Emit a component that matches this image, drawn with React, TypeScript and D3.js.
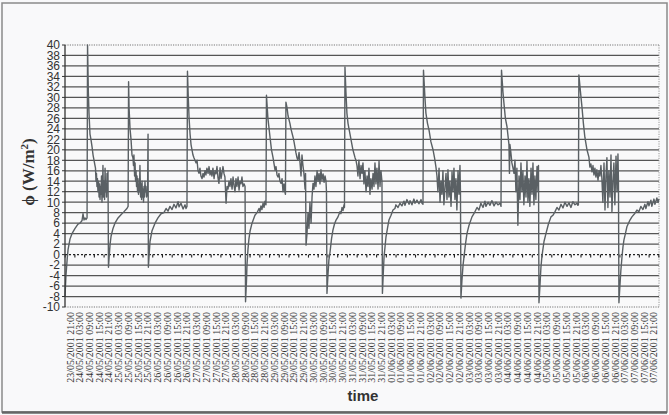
import React from 'react';
import * as d3 from 'd3';

const W = 669;
const H = 415;

// y axis values (W/m²)
const yTicks: number[] = d3.range(-10, 41, 2);

// category labels every 6 hours, hours counted from 23/05/2001 21:00
const startDate = new Date(2001, 4, 23, 21, 0);
const tickHours: number[] = d3.range(0, 361, 6);
const fmt = d3.timeFormat('%d/%m/%Y %H:%M');
const tickLabels: string[] = tickHours.map((h) => fmt(new Date(startDate.getTime() + h * 3600000)));
const categoryEdges: number[] = d3.range(-3, 364, 6);

// [hours since 23/05/2001 21:00, heat flux W/m²]
const flux2324: [number, number][] = [
  [-3.1, -8], [-2.5, -4], [-1.8, -1], [-1.2, 1], [0, 3], [1.2, 4], [3.1, 5], [4.9, 5.8], [6.2, 6], [7.4, 6.5],
  [8.0, 7.8], [8.6, 6.6], [9.2, 7], [9.9, 6.7], [10.5, 7], [10.8, 40], [11.3, 31], [11.7, 27], [12.3, 23], [12.9, 22],
  [13.6, 20.5], [14.2, 19], [14.8, 18], [15.4, 17],
  [15.7, 16.5], [16.0, 14], [16.3, 15.5], [16.6, 13], [16.9, 14.5], [17.2, 12], [17.6, 14], [17.9, 11], [18.2, 13.5],
  [18.5, 10.5], [18.8, 13], [19.1, 11.5], [19.4, 15], [19.7, 10], [20.0, 12.5], [20.3, 17], [20.6, 11], [20.9, 14],
  [21.3, 10.5], [21.6, 16.5], [21.9, 12], [22.2, 13.5], [22.5, 11], [22.8, 15.5], [23.1, 12],
  [23.4, 16], [23.7, -2.4],
];
const flux2425: [number, number][] = [
  [24.0, -1], [24.7, 2], [25.3, 3.5], [26.5, 5], [27.7, 6], [29.6, 7], [31.4, 7.6], [33.3, 8.2], [34.5, 8.6], [35.1, 8.8],
  [35.8, 9.2], [36.1, 33], [36.4, 28], [37.0, 24], [37.6, 22], [38.2, 19], [38.8, 18.5],
  [39.1, 17], [39.4, 19], [39.8, 15], [40.1, 17.5], [40.4, 14], [40.7, 16], [41.0, 13], [41.3, 15], [41.6, 12],
  [41.9, 14.5], [42.2, 11.5], [42.5, 13], [42.8, 12], [43.1, 17], [43.5, 11], [43.8, 13.5], [44.1, 10.5], [44.4, 14],
  [44.7, 11], [45.0, 12.5], [45.3, 10], [45.6, 13], [45.9, 11], [46.2, 14], [46.5, 12], [46.8, 13],
  [47.2, 11], [47.8, 12], [48.1, 23], [48.3, -2.4],
];
const flux2527: [number, number][] = [
  [48.7, -0.5], [49.3, 2.5], [50.5, 4.5], [52.4, 6], [54.2, 7], [56.1, 7.8], [57.9, 8], [59.2, 8.8], [60.4, 8.3],
  [61.6, 9.2], [62.9, 8.6], [64.1, 9.6], [65.3, 8.9], [66.6, 10.1], [67.2, 9.1], [68.4, 9.8], [69.7, 8.7], [70.9, 9.5],
  [71.5, 8.8], [72.1, 9.2], [72.4, 35], [72.9, 30], [73.4, 26], [74.0, 23], [74.6, 21], [75.2, 20], [75.8, 19],
  [76.4, 18.5], [77.7, 17.5], [78.3, 18], [78.9, 16],
  [79.5, 15.5], [80.1, 16.5], [80.7, 15], [81.4, 14.5], [82.0, 15.5], [82.6, 14.8], [83.2, 16], [83.8, 15.2],
  [84.4, 16.5], [85.1, 15.5], [85.7, 16.8], [86.3, 15.2], [86.9, 16], [87.5, 15], [88.1, 16.5], [88.8, 14.5],
  [89.4, 16], [90.0, 15.4], [90.6, 16.8], [91.2, 14.7], [91.8, 13.6], [92.5, 16.6], [93.1, 14.5], [93.7, 15.6],
  [94.3, 16.8], [94.9, 15.5], [95.5, 14.8], [96.2, 9.8], [96.8, 13], [97.4, 12.5], [98.0, 14], [98.6, 13],
  [99.2, 14.5], [99.9, 12.5], [100.5, 14.8], [101.1, 13.2], [101.7, 12], [102.3, 14.5], [102.9, 13], [103.6, 14.8],
  [104.2, 12.3], [104.8, 14], [105.4, 13.5], [106.0, 14.8], [106.6, 13], [107.3, 13.5], [107.9, 13], [108.2, -9],
];
const flux2729: [number, number][] = [
  [108.8, -5], [109.1, -2], [109.7, 1], [110.3, 3], [111.0, 4.5], [112.2, 6], [114.0, 7.5], [115.3, 8], [116.5, 8.8],
  [117.1, 8.2], [117.7, 9.3], [118.3, 8.6], [119.0, 9.8], [119.6, 9], [120.2, 10.2], [120.8, 9.5], [121.1, 30.4],
  [122.0, 26], [123.3, 22.4], [124.2, 20], [125.1, 18.6], [126.4, 16.1], [127.0, 16.8], [127.6, 15.2], [128.2, 14.8],
  [128.8, 15.5], [129.4, 14], [130.1, 13.6], [130.7, 14.5], [131.3, 12], [131.9, 13.5], [132.5, 11.9], [132.8, 11.5],
  [133.1, 29.1], [133.8, 28], [134.4, 26.5], [135.6, 25], [136.2, 24], [137.5, 22.4], [138.1, 21.5], [139.3, 19.4],
  [139.9, 18.5], [140.5, 18], [141.2, 19.5], [141.8, 17.5], [142.4, 15], [143.0, 19], [143.6, 17], [144.2, 15.5],
  [144.9, 12.5], [145.2, 15.5], [145.5, 1.8], [146.1, 4], [146.7, 8], [147.3, 5], [147.9, 10], [148.6, 6], [149.2, 11],
  [149.8, 13.6], [150.4, 12.5], [151.0, 15], [151.6, 13], [152.3, 16], [152.9, 14], [153.5, 15.5], [154.1, 13.5],
  [154.7, 16.2], [155.3, 14.2], [156.0, 15.4], [156.6, 13.8], [157.2, 15], [157.8, 14], [158.1, 12], [158.4, -7.4],
];
const flux3031: [number, number][] = [
  [159.0, -4], [159.6, -1], [160.3, 0.5], [161.2, 3], [162.1, 4.7], [163.0, 5.8], [164.0, 6.6], [165.2, 7.2],
  [166.4, 8.2], [167.0, 7.8], [167.7, 9], [168.3, 8.4], [168.9, 9.5], [169.2, 9], [169.5, 35.8], [170.1, 31],
  [170.7, 27], [171.4, 25], [172.6, 23], [173.8, 21], [174.4, 20], [175.7, 18.5], [176.3, 18], [176.9, 17],
  [177.5, 15], [178.1, 18], [178.8, 14.5], [179.4, 17], [180.0, 15.5], [180.6, 17.5], [181.2, 13.5], [181.8, 16],
  [182.5, 12], [183.1, 15], [183.7, 13], [184.3, 16.5], [184.9, 11.5], [185.5, 14.5], [186.2, 12.5], [186.8, 15.5],
  [187.4, 13], [188.0, 17.5], [188.6, 13.5], [189.2, 16.5], [189.9, 12.5], [190.5, 17.8], [191.1, 13], [191.7, 16],
  [192.3, 14], [192.6, -7.4],
];
const flux0102: [number, number][] = [
  [193.2, -3], [193.6, -0.4], [194.2, 1.5], [194.8, 3.4], [195.7, 5], [196.6, 6.6], [197.9, 7.5], [199.1, 8.5],
  [200.3, 8.8], [200.9, 9.5], [202.2, 9], [203.4, 9.8], [204.6, 9.3], [205.9, 10.2], [206.5, 9.4], [207.7, 10.5],
  [209.0, 9.6], [209.6, 10.3], [210.8, 9.5], [212.0, 10.6], [212.7, 9.8], [213.9, 10.4], [215.1, 9.7], [216.4, 10.5],
  [217.0, 9.8], [217.6, 9.6], [217.9, 35.2], [218.8, 30], [219.4, 27], [220.4, 25], [221.3, 23.8], [222.5, 21.5],
  [223.8, 20], [224.7, 18.5], [225.6, 16.7], [226.2, 15], [226.8, 12], [227.5, 16.5], [228.1, 10], [228.7, 14],
  [229.3, 11.5], [229.9, 16], [230.5, 9.5], [231.2, 13], [231.8, 15.5], [232.4, 10.5], [233.0, 16.2], [233.6, 11],
  [234.2, 14], [234.9, 9.2], [235.5, 15.8], [236.1, 12], [236.7, 16.5], [237.3, 10.5], [237.9, 14.5], [238.5, 8.5],
  [239.2, 16], [239.8, 11.5], [240.4, 17], [240.7, 12], [241.0, -8.3],
];
const flux0304: [number, number][] = [
  [241.6, -5], [242.3, -2], [242.9, -0.4], [243.8, 2], [244.7, 4], [245.9, 5.5], [247.8, 7.2], [249.0, 7.8],
  [250.9, 9], [252.1, 8.5], [253.3, 9.8], [254.6, 9], [255.8, 10.2], [256.4, 9.2], [257.7, 10], [258.9, 9.4],
  [260.1, 10.3], [261.4, 9.3], [262.6, 10], [263.8, 9.5], [265.1, 9.8], [265.7, 9.2], [266.0, 35.2], [266.9, 31],
  [267.5, 28.9], [268.4, 26], [269.4, 24.4], [270.6, 21], [270.9, 15.5], [271.2, 21], [271.8, 19.4], [272.4, 17.5],
  [273.1, 16.5], [273.7, 15.5], [274.3, 18], [274.9, 12], [275.5, 16.5], [276.1, 5.6], [276.8, 15], [277.4, 10.5],
  [278.0, 17.5], [278.6, 12], [279.2, 16], [279.8, 9.5], [280.5, 15], [281.1, 11], [281.7, 17.8], [282.3, 10],
  [282.9, 14.5], [283.5, 9.2], [284.2, 16.5], [284.8, 11.5], [285.4, 17.5], [286.0, 9.5], [286.6, 15], [287.2, 10.5],
  [287.9, 16.8], [288.5, 12], [288.8, 17], [289.1, -9.2],
];
const flux0506: [number, number][] = [
  [289.7, -6], [290.3, -2.5], [290.9, -0.4], [292.2, 2.5], [293.4, 4], [294.9, 5.8], [296.5, 7.2], [297.7, 7.5],
  [299.0, 8.2], [300.2, 9], [301.4, 8.5], [302.7, 9.6], [303.9, 8.9], [305.1, 10], [306.4, 9.2], [307.6, 9.9],
  [308.8, 9], [310.0, 10.1], [311.3, 9.5], [312.5, 9.8], [313.1, 9.4], [313.4, 9.5], [313.7, 34.3], [314.7, 31],
  [315.6, 28.2], [316.5, 25], [317.4, 22.4], [318.7, 20], [319.9, 18.6], [320.5, 16.7], [321.1, 17.3], [321.8, 15.8],
  [322.4, 17], [323.0, 15.2], [323.6, 16.5], [324.2, 14.8], [324.8, 16.2], [325.5, 14.2], [326.1, 16], [326.7, 15],
  [327.3, 17], [327.9, 14.5], [328.5, 10], [329.2, 17.5], [329.8, 8.5], [330.4, 15], [331.0, 18.5], [331.6, 9],
  [332.2, 16], [332.9, 11], [333.5, 19], [334.1, 8.2], [334.7, 14], [335.3, 17.5], [335.9, 9.5], [336.6, 18.8],
  [337.2, 12], [337.8, 19.2], [338.1, 14], [338.4, -9.2],
];
const flux0607: [number, number][] = [
  [339.0, -6], [339.6, -3], [340.3, -0.4], [340.9, 1.5], [341.5, 2.8], [342.4, 4], [343.3, 5.3], [345.2, 6.6],
  [346.4, 7.2], [348.3, 7.9], [349.5, 8.5], [350.7, 8.2], [351.9, 9.2], [353.2, 8.6], [354.4, 9.6], [355.0, 8.8],
  [356.3, 10.1], [356.9, 9.3], [358.1, 10.4], [358.7, 9.2], [360.0, 10.6], [360.6, 9.6], [361.8, 10.8], [362.5, 10],
  [363.1, 10.6],
];

const fluxSeries: [number, number][] = [
  ...flux2324, ...flux2425, ...flux2527, ...flux2729, ...flux3031, ...flux0102, ...flux0304, ...flux0506, ...flux0607,
];

export default function App() {
  const left = 65;
  const right = 659;
  const top = 45;
  const bottom = 307;
  const x = d3.scaleLinear().domain([-3.1, 363.1]).range([left, right]);
  const y = d3.scaleLinear().domain([-10, 40]).range([bottom, top]);
  const line = d3
    .line<[number, number]>()
    .x((d) => x(d[0]))
    .y((d) => y(d[1]));
  const y0 = y(0);
  const sans = "'Liberation Sans', Arial, sans-serif";
  const serif = "'Liberation Serif', 'Times New Roman', serif";

  return (
    <div style={{ position: 'absolute', left: 0, top: 0 }}>
      <svg width={W} height={H} style={{ display: 'block', background: '#f9f9fa' }}>
        <rect x={2} y={3} width={665} height={409} fill="#f9f9fa" stroke="#8a8a8a" strokeWidth={1.5} />
        <line x1={2} x2={667} y1={412.5} y2={412.5} stroke="#666" strokeWidth={2.5} />
        {/* horizontal gridlines */}
        {yTicks
          .filter((v) => v !== 0 && v !== -10 && v !== 40)
          .map((v) => (
            <line key={'g' + v} x1={left} x2={right} y1={y(v)} y2={y(v)} stroke="#555" strokeWidth={1.25} />
          ))}
        {/* plot border dotted */}
        <line x1={left} x2={right} y1={y(40)} y2={y(40)} stroke="#777" strokeWidth={1.2} strokeDasharray="1.2,1.2" />
        <line x1={left} x2={right} y1={y(-10)} y2={y(-10)} stroke="#777" strokeWidth={1.2} strokeDasharray="1.2,1.2" />
        <line x1={right} x2={right} y1={top} y2={bottom} stroke="#999" strokeWidth={1} strokeDasharray="1.2,1.2" />
        {/* zero axis dotted with category ticks */}
        <line x1={left} x2={right} y1={y0} y2={y0} stroke="#222" strokeWidth={1.2} strokeDasharray="2,2" />
        {categoryEdges.map((h) => (
          <line key={'c' + h} x1={x(h)} x2={x(h)} y1={y0} y2={y0 + 3} stroke="#222" strokeWidth={1.1} />
        ))}
        {/* data */}
        <path d={line(fluxSeries) || ''} fill="none" stroke="#5a6064" strokeWidth={1.4} strokeLinejoin="round" />
        {/* y axis */}
        <line x1={left} x2={left} y1={top} y2={bottom} stroke="#333" strokeWidth={1.3} />
        {yTicks.map((v) => (
          <g key={'t' + v}>
            <line x1={left - 3} x2={left} y1={y(v)} y2={y(v)} stroke="#333" strokeWidth={1} />
            <text x={left - 5} y={y(v)} dy="0.36em" textAnchor="end" fontFamily={sans} fontSize={12} fill="#333">
              {v}
            </text>
          </g>
        ))}
        {/* x tick labels */}
        {tickHours.map((h, i) => (
          <text
            key={'x' + h}
            transform={`translate(${x(h) + 3.5},${bottom + 5}) rotate(-90)`}
            textAnchor="end"
            fontFamily={serif}
            fontSize={10}
            fill="#333"
          >
            {tickLabels[i]}
          </text>
        ))}
        {/* axis titles */}
        <text x={363} y={401} textAnchor="middle" fontFamily={sans} fontWeight="bold" fontSize={15} fill="#333">
          time
        </text>
        <text
          transform={`translate(34,172) rotate(-90)`}
          textAnchor="middle"
          fontFamily={serif}
          fontWeight="bold"
          fontSize={17}
          fill="#333"
        >
          ϕ (W/m<tspan dy={-6} fontSize={11}>2</tspan><tspan dy={6}>)</tspan>
        </text>
      </svg>
    </div>
  );
}
